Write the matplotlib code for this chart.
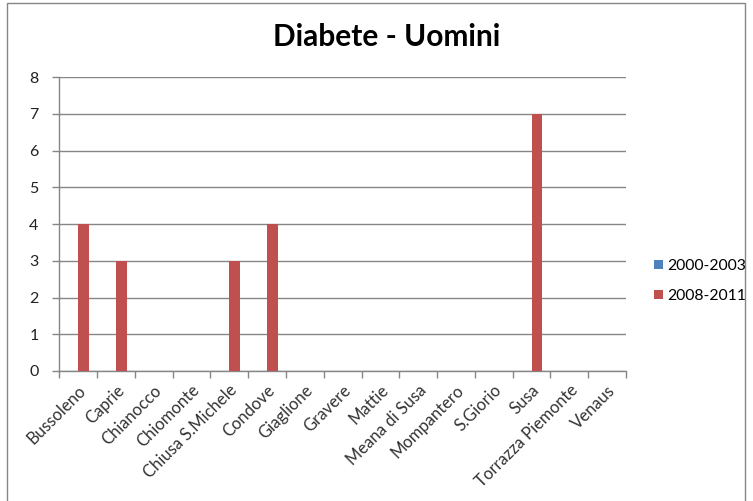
import matplotlib
matplotlib.use("Agg")
import matplotlib.pyplot as plt
import numpy as np
from matplotlib.patches import Rectangle

# --- Data ---
comuni = ["Bussoleno", "Caprie", "Chianocco", "Chiomonte", "Chiusa S.Michele",
          "Condove", "Giaglione", "Gravere", "Mattie", "Meana di Susa",
          "Mompantero", "S.Giorio", "Susa", "Torrazza Piemonte", "Venaus"]
serie_labels = ["2000-2003", "2008-2011"]
val_2000_2003 = [0, 0, 0, 0, 0, 0, 0, 0, 0, 0, 0, 0, 0, 0, 0]
val_2008_2011 = [4, 3, 0, 0, 3, 4, 0, 0, 0, 0, 0, 0, 7, 0, 0]
y_ticks = [0, 1, 2, 3, 4, 5, 6, 7, 8]

BLUE = "#4F81BD"
RED = "#C0504D"
GRID = "#868686"

plt.rcParams['font.family'] = ['Lato', 'DejaVu Sans']

fig = plt.figure(figsize=(7.53, 5.01), dpi=100)
ax = fig.add_axes([59.3 / 753, 130 / 501, 566.7 / 753, 294 / 501])

x = np.arange(len(comuni))
w = 1 / 3.5
ax.bar(x - w / 2, val_2000_2003, width=w, color=BLUE, label=serie_labels[0], zorder=3)
ax.bar(x + w / 2, val_2008_2011, width=w, color=RED, label=serie_labels[1], zorder=3)

ax.set_xlim(-0.5, len(comuni) - 0.5)
ax.set_ylim(0, 8)
ax.set_yticks(y_ticks)
ax.set_yticklabels([str(v) for v in y_ticks], fontsize=11.5, color="#222222")
ax.yaxis.grid(True, color=GRID, linewidth=1, zorder=0)

# category labels at centres, ticks between categories
ax.set_xticks(x)
ax.set_xticklabels(comuni, rotation=45, ha="right", rotation_mode="anchor",
                   fontsize=12, color="#333333")
ax.tick_params(axis="x", which="major", length=0, pad=8)
ax.set_xticks(np.arange(-0.5, len(comuni)), minor=True)
ax.tick_params(axis="x", which="minor", length=5, color=GRID, width=1)
ax.tick_params(axis="y", length=5, color=GRID, width=1, pad=10)

for s in ["top", "right"]:
    ax.spines[s].set_visible(False)
for s in ["left", "bottom"]:
    ax.spines[s].set_color(GRID)
    ax.spines[s].set_linewidth(1)

fig.text(387 / 753, 1 - 37 / 501, "Diabete - Uomini", ha="center", va="center",
         fontsize=21.5, fontweight="bold", color="black")

leg = fig.legend(loc="center left", bbox_to_anchor=(648 / 753, 1 - 281 / 501),
                 frameon=False, fontsize=11.3, handlelength=0.55, handleheight=0.55,
                 handletextpad=0.3, labelspacing=1.0, borderaxespad=0.0)

# outer chart border
fig.patches.append(Rectangle((7 / 753, -0.05), 738 / 753, 1.05 - 3 / 501,
                             transform=fig.transFigure, fill=False,
                             edgecolor=GRID, linewidth=1))

fig.savefig("out.png", dpi=100)
